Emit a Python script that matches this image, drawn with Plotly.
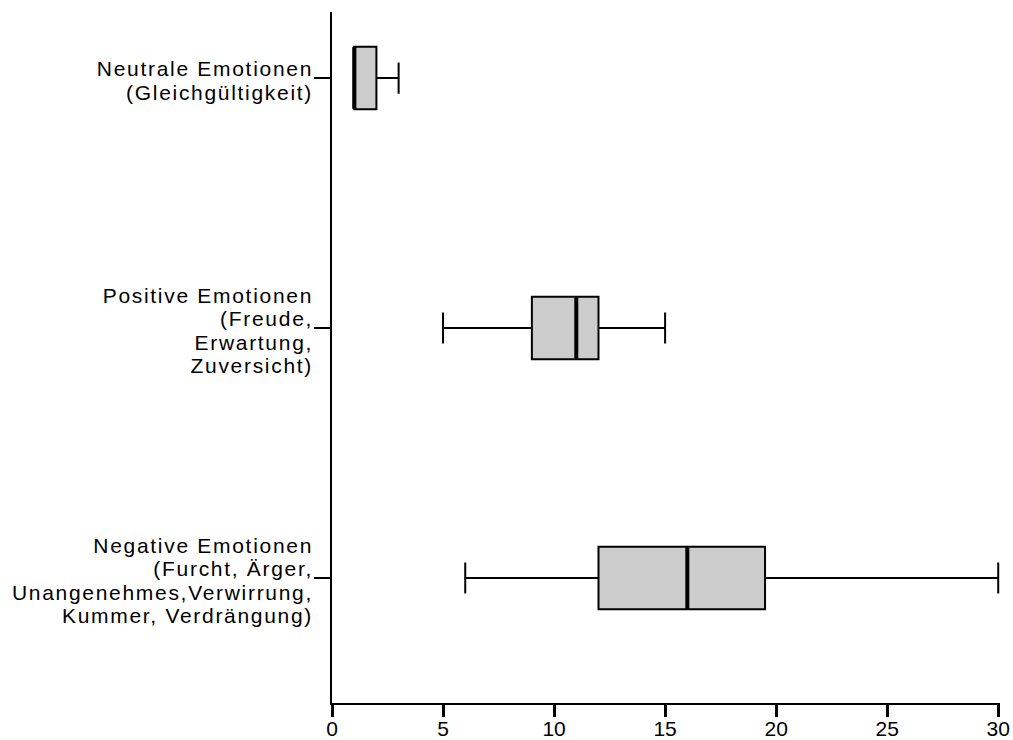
import plotly.graph_objects as go

categories = [
    "Neutrale Emotionen<br>(Gleichgültigkeit)",
    "Positive Emotionen<br>(Freude,<br>Erwartung,<br>Zuversicht)",
    "Negative Emotionen<br>(Furcht, Ärger,<br>Unangenehmes,Verwirrung,<br>Kummer, Verdrängung)",
]
lower_whisker = [1, 5, 6]
q1 = [1, 9, 12]
median = [1, 11, 16]
q3 = [2, 12, 19.5]
upper_whisker = [3, 15, 30]
x_ticks = [0, 5, 10, 15, 20, 25, 30]

FONT = "Liberation Sans, Arial, sans-serif"

fig = go.Figure()
fig.add_trace(go.Box(
    y=categories,
    q1=q1, median=median, q3=q3,
    lowerfence=lower_whisker, upperfence=upper_whisker,
    orientation="h",
    fillcolor="#cccccc",
    line=dict(color="black", width=2),
    width=0.25,
    whiskerwidth=0.5,
    boxpoints=False,
    showlegend=False,
    hoverinfo="skip",
))
# thicker median lines (same length as the box height)
fig.add_trace(go.Scatter(
    x=median, y=categories, mode="markers",
    marker=dict(symbol="line-ns", size=44, line=dict(color="black", width=4)),
    showlegend=False, hoverinfo="skip",
))

fig.update_layout(
    width=1013, height=740, autosize=False,
    margin=dict(l=332, r=13, t=12, b=37, pad=0),
    paper_bgcolor="white", plot_bgcolor="white",
    font=dict(family=FONT, size=20, color="black"),
    xaxis=dict(
        range=[0, 30.08], tickvals=x_ticks, ticktext=[str(v) for v in x_ticks],
        showline=True, linecolor="black", linewidth=1.5,
        ticks="outside", ticklen=12, tickwidth=2.5, tickcolor="black",
        ticklabelstandoff=-6,
        showgrid=False, zeroline=False, automargin=False,
        tickfont=dict(family=FONT, size=21),
    ),
    yaxis=dict(
        type="category", categoryarray=categories, categoryorder="array",
        range=[2.5, -0.264],
        showline=True, linecolor="black", linewidth=1.5,
        ticks="outside", ticklen=16, tickwidth=2, tickcolor="black",
        ticklabelstandoff=-3, automargin=False,
        showgrid=False, zeroline=False,
        tickfont=dict(family=FONT, size=21),
    ),
)

# tighten line spacing and widen letters of the category labels to match the reference typesetting
post_js = """
var gd = document.getElementById('{plot_id}');
gd.querySelectorAll('g.ytick text').forEach(function(t){
  t.style.letterSpacing = '1.7px';
  var lines = Array.prototype.slice.call(t.querySelectorAll('tspan.line'));
  if (lines.length < 2) return;
  var ds = lines.map(function(l){ return parseFloat(l.getAttribute('dy')) || 0; });
  var nmax = Math.max.apply(null, ds) / 1.3;
  var off = nmax * (1.3 - 1.11) / 2 + 0.12;
  lines.forEach(function(l, i){ l.setAttribute('dy', (ds[i] / 1.3 * 1.11 + off) + 'em'); });
});
"""

fig.write_html("out.html", post_script=post_js)
